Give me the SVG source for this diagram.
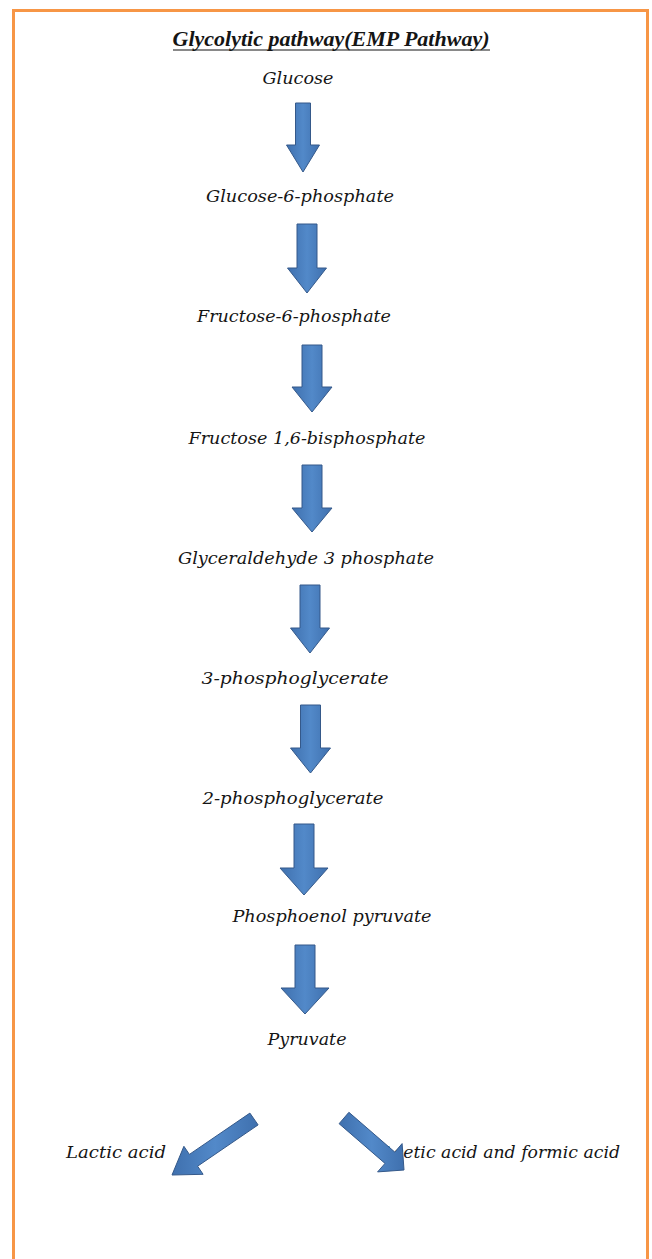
<svg xmlns="http://www.w3.org/2000/svg" width="652" height="1259" viewBox="0 0 652 1259">
<defs>
<linearGradient id="blue" x1="0" y1="0" x2="1" y2="0">
<stop offset="0" stop-color="#3f70ae"/>
<stop offset="0.5" stop-color="#5289c9"/>
<stop offset="1" stop-color="#3f70ae"/>
</linearGradient>
</defs>
<style>
.lbl{font-family:"DejaVu Serif","Liberation Serif",serif;font-style:italic;font-size:17px;fill:#151515;text-anchor:middle}
.lft{text-anchor:start}
.ttl{font-family:"Liberation Serif",serif;font-style:italic;font-weight:bold;font-size:21px;fill:#151515;text-anchor:middle}
.arr{fill:url(#blue);stroke:#35598a;stroke-width:1}
</style>
<rect x="0" y="0" width="652" height="1259" fill="#ffffff"/>
<rect id="frame" x="13.5" y="10.5" width="634" height="1270" fill="none" stroke="#f79646" stroke-width="3"/>
<g id="title">
<text class="ttl" x="331" y="46" textLength="317" lengthAdjust="spacingAndGlyphs">Glycolytic pathway(EMP Pathway)</text>
<line x1="173" y1="50" x2="490" y2="50" stroke="#151515" stroke-width="1.2"/>
</g>
<g id="connectors">
<polygon class="arr" points="295.5,103 310.5,103 310.5,145 319.5,145 303,172 286.5,145 295.5,145"/>
<polygon class="arr" points="297,224 317,224 317,268 326.5,268 307,293 287.5,268 297,268"/>
<polygon class="arr" points="302,345 322,345 322,387 332,387 312,412 292,387 302,387"/>
<polygon class="arr" points="302,465 322,465 322,508 332,508 312,532 292,508 302,508"/>
<polygon class="arr" points="300,585 320,585 320,628 329.5,628 310,653 290.5,628 300,628"/>
<polygon class="arr" points="300.5,705 320.5,705 320.5,748 330.5,748 310.5,773 290.5,748 300.5,748"/>
<polygon class="arr" points="294,824 314,824 314,868 328,868 304,895 280,868 294,868"/>
<polygon class="arr" points="295,945 315,945 315,988 329,988 305,1014 281,988 295,988"/>
</g>
<g id="n-glucose"><text class="lbl" x="298" y="84" textLength="71" lengthAdjust="spacingAndGlyphs">Glucose</text></g>
<g id="n-g6p"><text class="lbl" x="300" y="202" textLength="188" lengthAdjust="spacingAndGlyphs">Glucose-6-phosphate</text></g>
<g id="n-f6p"><text class="lbl" x="294" y="322" textLength="194" lengthAdjust="spacingAndGlyphs">Fructose-6-phosphate</text></g>
<g id="n-f16bp"><text class="lbl" x="307" y="444" textLength="237" lengthAdjust="spacingAndGlyphs">Fructose 1,6-bisphosphate</text></g>
<g id="n-g3p"><text class="lbl" x="306" y="564" textLength="256" lengthAdjust="spacingAndGlyphs">Glyceraldehyde 3 phosphate</text></g>
<g id="n-3pg"><text class="lbl" x="295" y="684" textLength="187" lengthAdjust="spacingAndGlyphs">3-phosphoglycerate</text></g>
<g id="n-2pg"><text class="lbl" x="293" y="804" textLength="181" lengthAdjust="spacingAndGlyphs">2-phosphoglycerate</text></g>
<g id="n-pep"><text class="lbl" x="332" y="922" textLength="199" lengthAdjust="spacingAndGlyphs">Phosphoenol pyruvate</text></g>
<g id="n-pyruvate"><text class="lbl" x="307" y="1045" textLength="79" lengthAdjust="spacingAndGlyphs">Pyruvate</text></g>
<g id="n-lactic"><text class="lbl lft" x="66" y="1158" textLength="100" lengthAdjust="spacingAndGlyphs">Lactic acid</text></g>
<g id="n-acetic"><text class="lbl lft" x="381" y="1158" textLength="239" lengthAdjust="spacingAndGlyphs">Acetic acid and formic acid</text></g>
<g id="connectors-branch">
<polygon class="arr" points="249.9,1113.1 258.1,1124.9 197.6,1166.2 203.1,1174.3 172,1175 183.9,1146.3 189.4,1154.4"/>
<polygon class="arr" points="348.9,1112.3 339.1,1123.7 385,1163.4 377.6,1171.9 404,1170 402.1,1143.6 394.8,1152.1"/>
</g>
</svg>
